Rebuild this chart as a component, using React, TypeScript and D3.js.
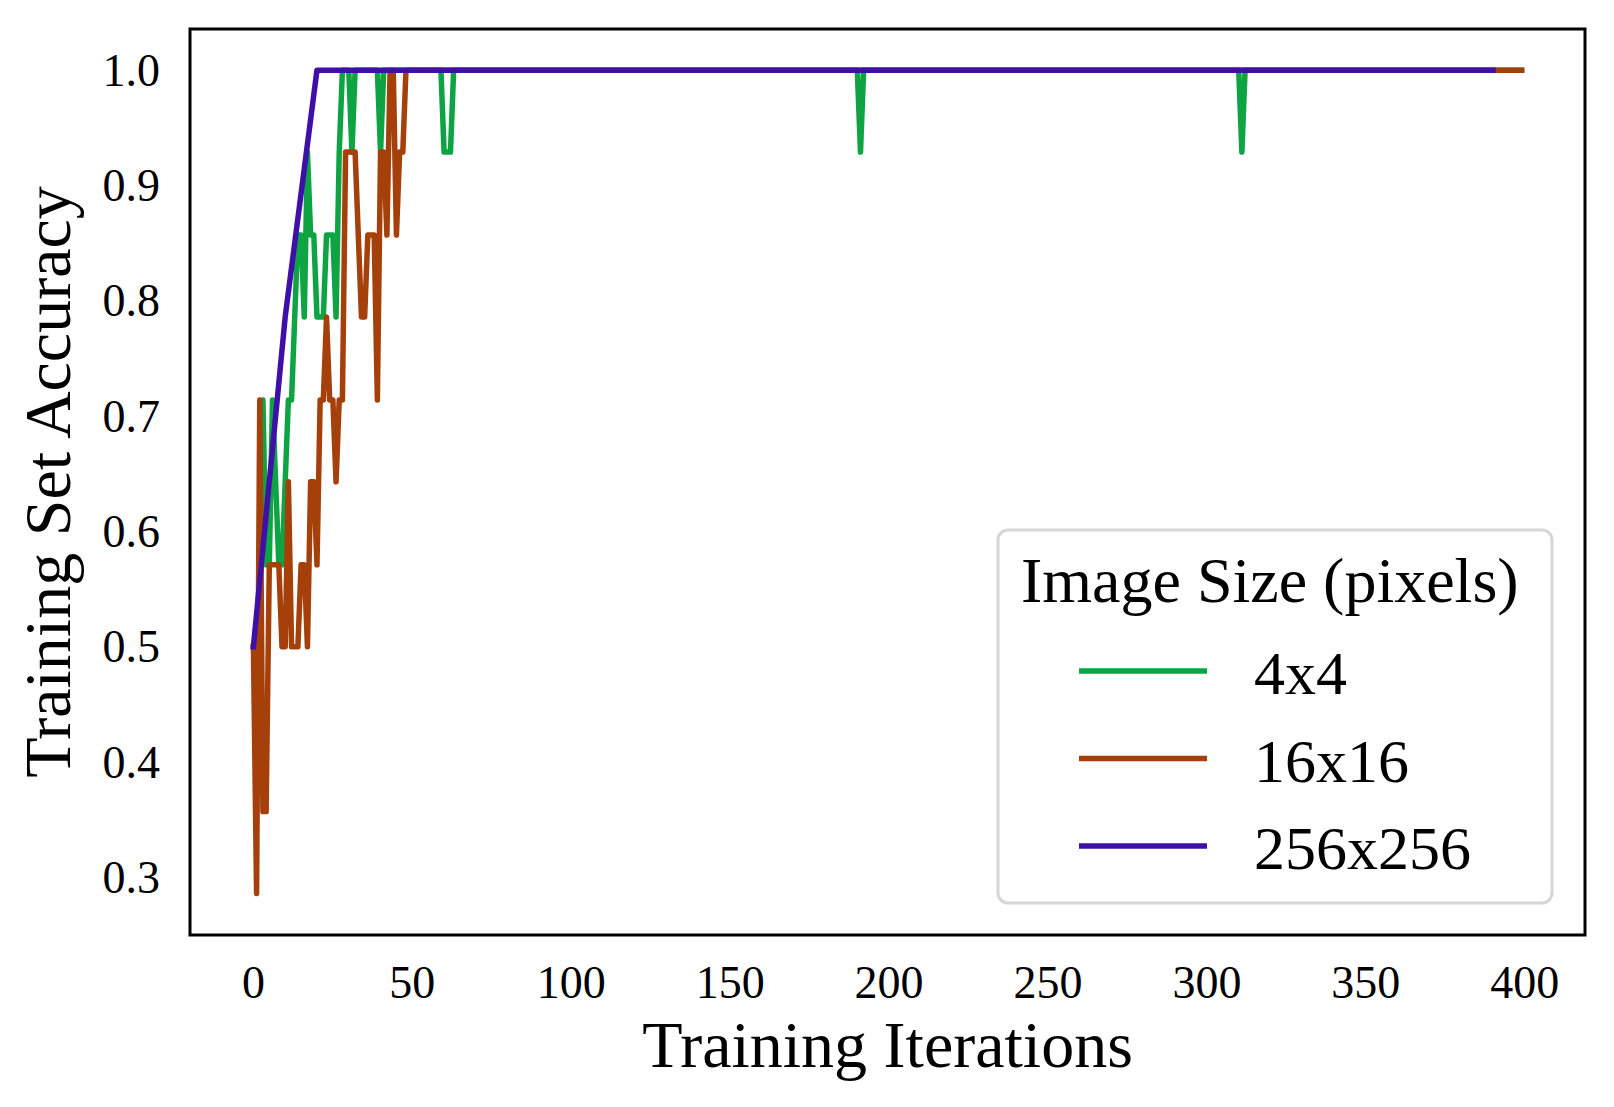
import * as d3 from 'd3'

// iteration -> training set accuracy, only the vertices of each polyline
const greenIters = [0, 1, 2, 3, 4, 5, 6, 7, 8, 9, 10, 11, 12, 13, 14, 15, 16, 17, 18, 19, 20, 21, 22, 23, 24, 25, 26, 27, 28, 30, 31, 32, 39, 40, 41, 59, 60, 62, 63, 190, 191, 192, 310, 311, 312, 399]
const greenAcc = [0.5, 0.5, 0.571, 0.714, 0.571, 0.571, 0.714, 0.643, 0.571, 0.571, 0.643, 0.714, 0.714, 0.786, 0.857, 0.857, 0.786, 0.929, 0.857, 0.857, 0.786, 0.786, 0.786, 0.857, 0.857, 0.857, 0.786, 0.929, 1, 1, 0.929, 1, 1, 0.929, 1, 1, 0.929, 0.929, 1, 1, 0.929, 1, 1, 0.929, 1, 1]

const redIters = [0, 1, 2, 3, 4, 5, 6, 7, 8, 9, 10, 11, 12, 13, 14, 15, 16, 17, 18, 19, 20, 21, 22, 23, 24, 25, 26, 27, 28, 29, 30, 31, 32, 33, 34, 35, 36, 37, 38, 39, 40, 41, 42, 43, 44, 45, 46, 47, 48, 399]
const redAcc = [0.5, 0.286, 0.714, 0.357, 0.357, 0.571, 0.571, 0.571, 0.571, 0.5, 0.5, 0.643, 0.5, 0.5, 0.5, 0.571, 0.571, 0.5, 0.643, 0.643, 0.571, 0.714, 0.714, 0.786, 0.714, 0.714, 0.643, 0.714, 0.714, 0.929, 0.929, 0.929, 0.929, 0.857, 0.786, 0.786, 0.857, 0.857, 0.857, 0.714, 0.929, 0.929, 0.857, 1, 1, 0.857, 0.929, 0.929, 1, 1]

const purpleIters = [0, 10, 20, 390]
const purpleAcc = [0.5, 0.786, 1, 1]

const seriesNames = ['4x4', '16x16', '256x256']
const seriesColors = ['#0ea443', '#a5400b', '#3f0fa9']
const xTicks = [0, 50, 100, 150, 200, 250, 300, 350, 400]
const yTicks = [0.3, 0.4, 0.5, 0.6, 0.7, 0.8, 0.9, 1.0]

const W = 1614
const H = 1107
const margin = { left: 190, right: 29, top: 29, bottom: 172 }
const font = '"Liberation Serif", "Times New Roman", serif'

export default function App() {
  const x = d3.scaleLinear().domain([-19.95, 418.95]).range([margin.left, W - margin.right])
  const y = d3.scaleLinear().domain([0.25, 1.0357]).range([H - margin.bottom, margin.top])

  const line = d3
    .line<[number, number]>()
    .x((d) => x(d[0]))
    .y((d) => y(d[1]))

  const series = [
    d3.zip(greenIters, greenAcc) as [number, number][],
    d3.zip(redIters, redAcc) as [number, number][],
    d3.zip(purpleIters, purpleAcc) as [number, number][],
  ]

  const plotL = margin.left
  const plotR = W - margin.right
  const plotT = margin.top
  const plotB = H - margin.bottom
  const legend = { x: 998, y: 530, w: 554, h: 373 }

  return (
    <svg width={W} height={H} style={{ position: 'absolute', left: 0, top: 0, background: '#fff' }} fontFamily={font}>
      <rect x={0} y={0} width={W} height={H} fill="#fff" />

      {series.map((pts, i) => (
        <path
          key={seriesNames[i]}
          d={line(pts) || ''}
          fill="none"
          stroke={seriesColors[i]}
          strokeWidth={5.5}
          strokeLinejoin="round"
          strokeLinecap="square"
        />
      ))}

      <rect x={plotL} y={plotT} width={plotR - plotL} height={plotB - plotT} fill="none" stroke="#000" strokeWidth={3} />

      {yTicks.map((t) => (
        <text key={t} x={160} y={y(t)} dy="0.34em" textAnchor="end" fontSize={46}>
          {t.toFixed(1)}
        </text>
      ))}
      {xTicks.map((t) => (
        <text key={t} x={x(t)} y={998} textAnchor="middle" fontSize={46}>
          {t}
        </text>
      ))}

      <text x={(plotL + plotR) / 2} y={1067} textAnchor="middle" fontSize={66}>
        Training Iterations
      </text>
      <text transform={`translate(70,${(plotT + plotB) / 2}) rotate(-90)`} textAnchor="middle" fontSize={66}>
        Training Set Accuracy
      </text>

      <rect x={legend.x} y={legend.y} width={legend.w} height={legend.h} rx={10} fill="#fff" stroke="#d6d6d6" strokeWidth={3} />
      <text x={1021} y={602} fontSize={64}>
        Image Size (pixels)
      </text>
      {seriesNames.map((name, i) => {
        const ly = 671 + i * 87.5
        return (
          <g key={name}>
            <line x1={1079} x2={1207} y1={ly} y2={ly} stroke={seriesColors[i]} strokeWidth={5.5} />
            <text x={1254} y={ly + 23} fontSize={62}>
              {name}
            </text>
          </g>
        )
      })}
    </svg>
  )
}
